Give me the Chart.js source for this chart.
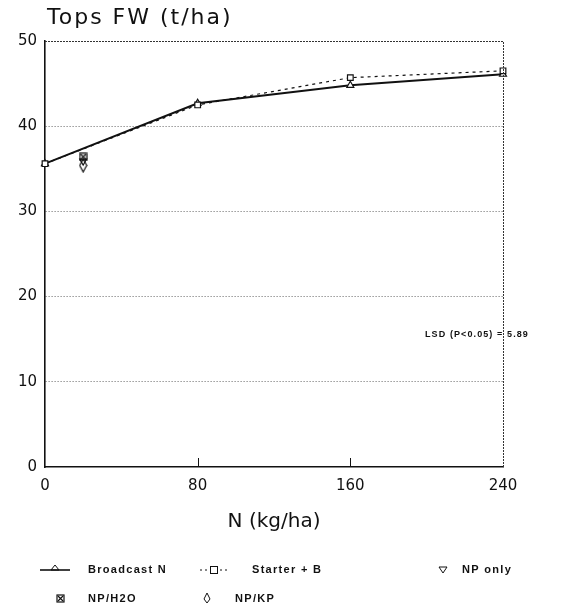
<!DOCTYPE html>
<html>
<head>
<meta charset="utf-8">
<script src="https://cdn.jsdelivr.net/npm/chart.js@4.4.0/dist/chart.umd.min.js"></script>
<style>
  html, body { margin: 0; padding: 0; background: #fff; }
  #wrap { width: 584px; height: 615px; }
</style>
</head>
<body>
<div id="wrap"><canvas id="c" width="584" height="615"></canvas></div>
<script>
/* ---------- data ---------- */
const nRates = [0, 80, 160, 240];
const broadcastN = [35.6, 42.7, 44.8, 46.1];
const starterB = [35.6, 42.5, 45.7, 46.5];
const npRate = [20];
const npOnly = [35.9];
const npH2O = [36.4];
const npKP = [35.4];
const xTicks = [0, 80, 160, 240];
const yTicks = [0, 10, 20, 30, 40, 50];
const chartTitle = 'Tops FW (t/ha)';
const xTitle = 'N (kg/ha)';
const lsdText = 'LSD (P<0.05) = 5.89';
const legendLabels = ['Broadcast N', 'Starter + B', 'NP only', 'NP/H2O', 'NP/KP'];

const INK = '#111';
const FONT = "'Liberation Sans', Arial, sans-serif";
const WIDE = `'DejaVu Sans', ${FONT}`;

const pts = (xs, ys) => xs.map((x, i) => ({ x, y: ys[i] }));

/* ---------- small marker sprites ---------- */
function sprite(w, h, draw) {
  const c = document.createElement('canvas');
  c.width = w; c.height = h;
  const g = c.getContext('2d');
  g.strokeStyle = INK; g.lineWidth = 1.2;
  draw(g);
  return c;
}
const boxX = sprite(9, 9, (g) => {
  g.strokeRect(1, 1, 7, 7);
  g.beginPath(); g.moveTo(2, 2); g.lineTo(7, 7); g.moveTo(7, 2); g.lineTo(2, 7); g.stroke();
});
const tallDiamond = sprite(9, 15, (g) => {
  g.beginPath(); g.moveTo(4.5, 1); g.lineTo(8, 7.5); g.lineTo(4.5, 14); g.lineTo(1, 7.5); g.closePath();
  g.stroke();
});

/* ---------- plugins: frame, title, note, legend ---------- */
const decor = {
  id: 'decor',
  afterDraw(chart) {
    const { ctx, chartArea: a, scales } = chart;
    ctx.save();
    // dotted top/right frame
    ctx.strokeStyle = '#333';
    ctx.lineWidth = 1;
    ctx.setLineDash([2, 1]);
    ctx.beginPath();
    ctx.moveTo(a.left, a.top + 0.5); ctx.lineTo(a.right + 0.5, a.top + 0.5); ctx.lineTo(a.right + 0.5, a.bottom);
    ctx.stroke();
    ctx.setLineDash([]);
    // inward ticks on x axis
    ctx.strokeStyle = INK;
    [80, 160].forEach((v) => {
      const px = Math.round(scales.x.getPixelForValue(v)) + 0.5;
      ctx.beginPath(); ctx.moveTo(px, a.bottom); ctx.lineTo(px, a.bottom - 9); ctx.stroke();
    });

    ctx.fillStyle = INK;
    ctx.textBaseline = 'middle';
    ctx.textAlign = 'left';
    // title
    ctx.font = `22px ${WIDE}`;
    ctx.letterSpacing = '2px';
    ctx.fillText(chartTitle, 47, 18);
    // LSD note
    ctx.font = `bold 9px ${FONT}`;
    ctx.letterSpacing = '1.1px';
    ctx.fillText(lsdText, 425, 335);

    // legend
    ctx.font = `bold 11px ${FONT}`;
    ctx.letterSpacing = '1.3px';
    const r1 = 570, r2 = 599;
    // Broadcast N: solid line with triangle
    ctx.lineWidth = 1.6;
    ctx.beginPath(); ctx.moveTo(40, r1); ctx.lineTo(70, r1); ctx.stroke();
    ctx.lineWidth = 1;
    ctx.beginPath(); ctx.moveTo(55, r1 - 5); ctx.lineTo(59, r1); ctx.lineTo(51, r1); ctx.closePath(); ctx.stroke();
    ctx.fillText(legendLabels[0], 88, r1);
    // Starter + B: dotted with square
    ctx.setLineDash([2, 3]);
    ctx.beginPath(); ctx.moveTo(200, r1); ctx.lineTo(228, r1); ctx.stroke();
    ctx.setLineDash([]);
    ctx.fillStyle = '#fff'; ctx.fillRect(210, r1 - 4, 8, 8); ctx.fillStyle = INK;
    ctx.strokeRect(210.5, r1 - 3.5, 7, 7);
    ctx.fillText(legendLabels[1], 252, r1);
    // NP only: down triangle
    ctx.beginPath(); ctx.moveTo(439, r1 - 3); ctx.lineTo(447, r1 - 3); ctx.lineTo(443, r1 + 3); ctx.closePath(); ctx.stroke();
    ctx.fillText(legendLabels[2], 462, r1);
    // NP/H2O: boxed x
    ctx.drawImage(boxX, 56, r2 - 5);
    ctx.fillText(legendLabels[3], 88, r2);
    // NP/KP: diamond
    ctx.beginPath(); ctx.moveTo(207, r2 - 6); ctx.lineTo(210, r2); ctx.lineTo(207, r2 + 4); ctx.lineTo(204, r2); ctx.closePath(); ctx.stroke();
    ctx.fillText(legendLabels[4], 235, r2);
    ctx.restore();
  },
};

/* ---------- chart ---------- */
new Chart(document.getElementById('c'), {
  type: 'line',
  data: {
    datasets: [
      {
        label: legendLabels[1],
        data: pts(nRates, starterB),
        clip: false,
        borderColor: INK, borderWidth: 1.2, borderDash: [3, 4],
        pointStyle: 'rect', pointRadius: 4, pointBorderWidth: 1.2,
        pointBackgroundColor: '#fff', pointBorderColor: INK,
      },
      {
        label: legendLabels[0],
        data: pts(nRates, broadcastN),
        clip: false,
        borderColor: INK, borderWidth: 2,
        pointStyle: 'triangle', pointRadius: 4, pointBorderWidth: 1.2,
        pointBackgroundColor: '#fff', pointBorderColor: INK,
      },
      {
        label: legendLabels[2],
        data: pts(npRate, npOnly),
        showLine: false,
        pointStyle: 'triangle', pointRotation: 180, pointRadius: 4, pointBorderWidth: 1.1,
        pointBackgroundColor: 'rgba(0,0,0,0)', pointBorderColor: INK,
      },
      {
        label: legendLabels[3],
        data: pts(npRate, npH2O),
        showLine: false,
        pointStyle: boxX,
      },
      {
        label: legendLabels[4],
        data: pts(npRate, npKP),
        showLine: false,
        pointStyle: tallDiamond,
      },
    ],
  },
  options: {
    responsive: false,
    devicePixelRatio: 1,
    animation: false,
    layout: { padding: { left: 0, right: 81, top: 41, bottom: 0 } },
    plugins: { legend: { display: false }, tooltip: { enabled: false } },
    scales: {
      x: {
        type: 'linear', min: 0, max: 240,
        afterBuildTicks: (s) => { s.ticks = xTicks.map((v) => ({ value: v })); },
        afterFit: (s) => { s.height = 148; },
        grid: { drawOnChartArea: false, drawTicks: false },
        border: { display: true, color: INK, width: 1.6 },
        ticks: { color: INK, padding: 10, font: { family: WIDE, size: 15 } },
        title: {
          display: true, text: xTitle, color: INK,
          font: { family: WIDE, size: 20 },
          padding: { top: 0, bottom: 81 },
        },
      },
      y: {
        min: 0, max: 50,
        afterBuildTicks: (s) => { s.ticks = yTicks.map((v) => ({ value: v })); },
        afterFit: (s) => { s.width = 45; },
        grid: {
          drawTicks: false,
          color: (c) => (c.tick && (c.tick.value === 0 || c.tick.value === 50) ? 'rgba(0,0,0,0)' : '#666'),
          lineWidth: 1,
        },
        border: { display: true, color: INK, width: 1.6, dash: [1, 2] },
        ticks: { color: INK, padding: 8, font: { family: WIDE, size: 15 } },
      },
    },
  },
  plugins: [decor],
});
</script>
</body>
</html>
